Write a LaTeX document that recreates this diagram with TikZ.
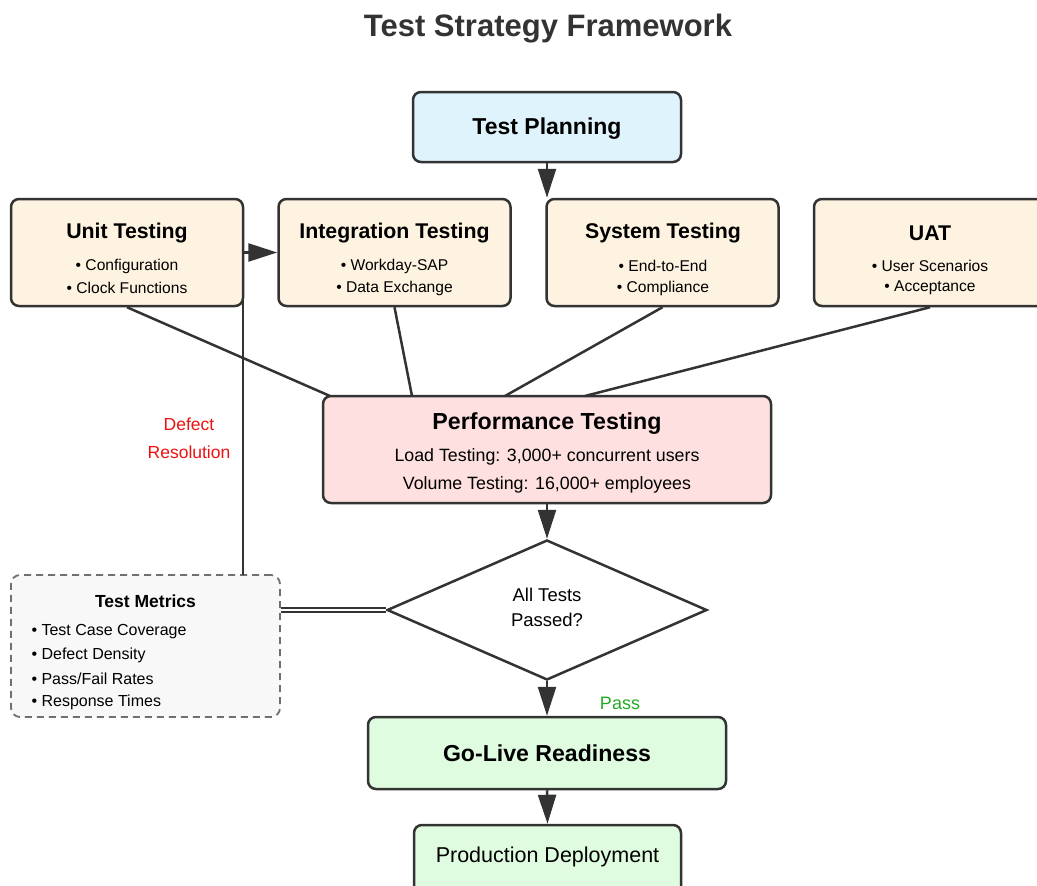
\documentclass[tikz,border=0pt]{standalone}
\usepackage{fontspec}
\setmainfont{Liberation Sans}
\usetikzlibrary{arrows.meta,shapes.geometric,calc}

\definecolor{edge}{HTML}{333333}
\definecolor{planfill}{HTML}{DFF3FC}
\definecolor{phasefill}{HTML}{FEF2E0}
\definecolor{perffill}{HTML}{FEE0E0}
\definecolor{livefill}{HTML}{E0FCE0}
\definecolor{metricfill}{HTML}{F8F8F8}
\definecolor{passgreen}{HTML}{22AA22}
\definecolor{defectred}{HTML}{EE1111}

\tikzset{
  box/.style={draw=edge, line width=2.5pt, rounded corners=8pt, align=center, inner sep=0pt},
  phase/.style={box, fill=phasefill, minimum width=232pt, minimum height=107pt},
  link/.style={draw=edge, line width=2.5pt},
  flow/.style={link, -{Triangle[length=29pt,width=18pt]}},
  ttl/.style={font=\bfseries\fontsize{21.3}{25}\selectfont},
  bul/.style={font=\fontsize{15.6}{18}\selectfont},
  mbul/.style={font=\fontsize{16}{19}\selectfont, anchor=west},
}

\begin{document}
\begin{tikzpicture}[x=1pt,y=-1pt]
\useasboundingbox (0,0) rectangle (1037,886);
\begin{scope}
\clip (0,0) rectangle (1037,886);

% title
\node[text=edge, font=\bfseries\fontsize{31}{35}\selectfont] (title) at (548,29) {Test Strategy Framework};

% planning
\node[box, fill=planfill, minimum width=268pt, minimum height=70pt] (plan) at (547,127) {};
\node[font=\bfseries\fontsize{23}{27}\selectfont] (plantext) at (547,129) {Test Planning};

% test phases
\node[phase] (unit) at (127,252.5) {};
\node[ttl] at (127,233) {Unit Testing};
\node[bul] at (127,266) {\textbullet\ Configuration};
\node[bul] at (127,288) {\textbullet\ Clock Functions};

\node[phase] (integ) at (394.5,252.5) {};
\node[ttl] at (394.5,233) {Integration Testing};
\node[bul] at (394.5,266) {\textbullet\ Workday-SAP};
\node[bul] at (394.5,288) {\textbullet\ Data Exchange};

\node[phase] (sys) at (662.5,252.5) {};
\node[ttl] at (663,233) {System Testing};
\node[bul] at (663,266) {\textbullet\ End-to-End};
\node[bul] at (663,288) {\textbullet\ Compliance};

\node[phase] (uat) at (930,252.5) {};
\node[ttl] at (930,233) {UAT};
\node[bul] at (930,266) {\textbullet\ User Scenarios};
\node[bul] at (930,288) {\textbullet\ Acceptance};

% performance
\node[box, fill=perffill, minimum width=448pt, minimum height=107pt] (perf) at (547,449.5) {};
\node[font=\bfseries\fontsize{23.2}{27}\selectfont] at (547,424) {Performance Testing};
\node[font=\fontsize{17.8}{21}\selectfont] at (547,457) {Load Testing: 3,000+ concurrent users};
\node[font=\fontsize{17.8}{21}\selectfont] at (547,485) {Volume Testing: 16,000+ employees};

% decision
\node[draw=edge, line width=2.5pt, fill=white, diamond, aspect=2.3,
      minimum width=320pt, minimum height=140pt, inner sep=0pt] (dec) at (547,610) {};
\node[font=\fontsize{18.5}{21}\selectfont] at (547,595) {All Tests};
\node[font=\fontsize{18.5}{21}\selectfont] at (547,620) {Passed?};

% metrics
\node[draw=edge!70, dashed, dash pattern=on 7pt off 5pt, line width=1.8pt, rounded corners=9pt,
      fill=metricfill, minimum width=269pt, minimum height=142pt] (metrics) at (145.5,646) {};
\node[font=\bfseries\fontsize{17.5}{20}\selectfont] at (145.5,601) {Test Metrics};
\node[mbul] at (28,632) {\textbullet\ Test Case Coverage};
\node[mbul] at (28,655) {\textbullet\ Defect Density};
\node[mbul] at (28,679) {\textbullet\ Pass/Fail Rates};
\node[mbul] at (28,702) {\textbullet\ Response Times};

% go-live and deployment
\node[box, fill=livefill, minimum width=358pt, minimum height=72pt,
      font=\bfseries\fontsize{23.1}{27}\selectfont] (live) at (547,753) {Go-Live Readiness};
\node[box, fill=livefill, minimum width=267pt, minimum height=80pt] (prod) at (547.5,865) {};
\node[font=\fontsize{21.5}{25}\selectfont] at (547.5,857) {Production Deployment};

% connectors
\coordinate (p1) at (330,396);
\coordinate (p2) at (412,396);
\coordinate (p3) at (505,396);
\coordinate (p4) at (585,396);
\draw[link] (unit.south) -- (p1);
\draw[link] (integ.south) -- (p2);
\draw[link] (sys.south) -- (p3);
\draw[link] (uat.south) -- (p4);

\draw[flow] (plan.south) -- (plan.south |- sys.north);
\draw[flow] (perf.south) -- (dec.north);
\draw[flow] (dec.south) -- (live.north);
\draw[flow] (live.south) -- (prod.north);

\draw[link, double=white, double distance=1.2pt, line width=2pt] (dec.west) -- (metrics.east |- dec.west);

\coordinate (loop) at (243,575);
\draw[flow] (loop) |- (integ.west);

% labels
\node[text=defectred, font=\fontsize{17.5}{20}\selectfont] (defect) at (189,424) {Defect};
\node[text=defectred, font=\fontsize{17.5}{20}\selectfont] (resol) at (189,452) {Resolution};
\node[text=passgreen, font=\fontsize{18}{21}\selectfont] (pass) at (620,703) {Pass};
\end{scope}
\end{tikzpicture}
\end{document}
